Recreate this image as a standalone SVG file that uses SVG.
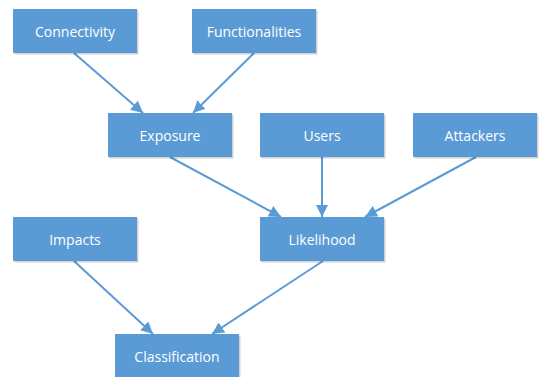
<svg xmlns="http://www.w3.org/2000/svg" width="543" height="377" viewBox="0 0 543 377">
<defs>
<style>
.box{fill:#5B9BD5;}
.sh{fill:#000;opacity:0.18;}
.lbl{fill:#fff;font-family:"Open Sans","Liberation Sans",sans-serif;font-size:14px;text-anchor:middle;dominant-baseline:central;}
.con{stroke:#5B9BD5;stroke-width:2;fill:none;marker-end:url(#arr);}
</style>
<marker id="arr" viewBox="0 0 10 10" refX="10" refY="5" markerWidth="6" markerHeight="6" markerUnits="strokeWidth" orient="auto">
<path d="M0,0 L10,5 L0,10 z" fill="#5B9BD5"/>
</marker>
</defs>
<rect width="543" height="377" fill="#fff"/>
<g id="connectors">
<line class="con" x1="74" y1="53" x2="143" y2="113"/>
<line class="con" x1="254" y1="53" x2="193" y2="113"/>
<line class="con" x1="170" y1="157" x2="281" y2="217"/>
<line class="con" x1="322" y1="157" x2="322" y2="217"/>
<line class="con" x1="476" y1="157" x2="365" y2="217"/>
<line class="con" x1="74" y1="261" x2="153" y2="334"/>
<line class="con" x1="323" y1="261" x2="212" y2="334"/>
</g>
<g id="connectivity"><rect class="sh" x="14.5" y="10.5" width="124" height="44"/><rect class="box" x="13" y="9" width="124" height="44"/><text class="lbl" x="75" y="31">Connectivity</text></g>
<g id="functionalities"><rect class="sh" x="193.5" y="10.5" width="124" height="44"/><rect class="box" x="192" y="9" width="124" height="44"/><text class="lbl" x="254" y="31">Functionalities</text></g>
<g id="exposure"><rect class="sh" x="109.5" y="114.5" width="124" height="44"/><rect class="box" x="108" y="113" width="124" height="44"/><text class="lbl" x="170" y="135">Exposure</text></g>
<g id="users"><rect class="sh" x="261.5" y="114.5" width="124" height="44"/><rect class="box" x="260" y="113" width="124" height="44"/><text class="lbl" x="322" y="135">Users</text></g>
<g id="attackers"><rect class="sh" x="414.5" y="114.5" width="124" height="44"/><rect class="box" x="413" y="113" width="124" height="44"/><text class="lbl" x="475" y="135">Attackers</text></g>
<g id="impacts"><rect class="sh" x="14.5" y="218.5" width="124" height="44"/><rect class="box" x="13" y="217" width="124" height="44"/><text class="lbl" x="75" y="239">Impacts</text></g>
<g id="likelihood"><rect class="sh" x="261.5" y="218.5" width="124" height="44"/><rect class="box" x="260" y="217" width="124" height="44"/><text class="lbl" x="322" y="239">Likelihood</text></g>
<g id="classification"><rect class="sh" x="116.5" y="335.5" width="124" height="44"/><rect class="box" x="115" y="334" width="124" height="44"/><text class="lbl" x="177" y="356">Classification</text></g>
</svg>
